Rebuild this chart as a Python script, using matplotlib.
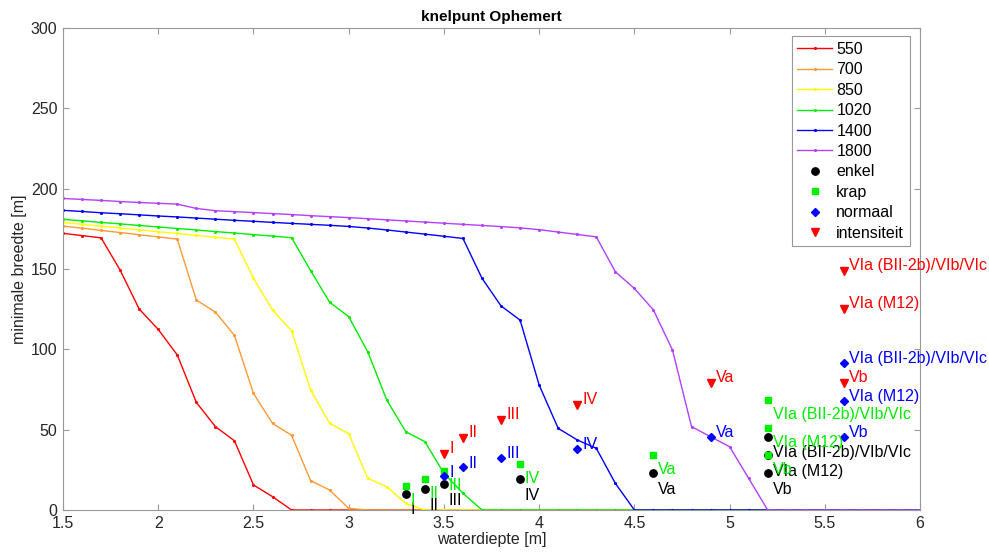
import matplotlib
matplotlib.use('Agg')
import matplotlib.pyplot as plt
import numpy as np

plt.rcParams['font.family'] = ['Liberation Sans', 'DejaVu Sans']
plt.rcParams['font.size'] = 11.5

# waterdiepte (x) en minimale breedte per schip-klasse
diepte = np.round(np.arange(1.5, 6.01, 0.1), 1)

b550 = [172.2, 170.8, 169.4, 149.3, 125.1, 112.4, 96.5, 67.0, 51.9, 43.1,
        15.6, 8.3, 0]
b700 = [176.7, 175.4, 174.0, 172.7, 171.3, 170.0, 168.6, 130.7, 123.2, 108.7,
        72.6, 53.9, 46.5, 18.3, 12.4, 1.0, 0]
b850 = [179.0, 177.8, 176.7, 175.5, 174.4, 173.2, 172.1, 170.9, 169.8, 168.6,
        144.2, 124.5, 111.6, 74.7, 53.9, 47.5, 19.7, 14.5, 4.1, 0]
b1020 = [180.9, 180.0, 179.0, 178.1, 177.1, 176.2, 175.2, 174.3, 173.3, 172.4,
         171.4, 170.5, 169.5, 149.0, 129.3, 120.3, 98.5, 68.4, 48.7, 42.5,
         22.8, 10.4, 0]
b1400 = [186.5, 185.8, 185.0, 184.4, 183.7, 183.0, 182.4, 181.7, 181.0, 180.3,
         179.7, 179.0, 178.4, 177.8, 177.2, 176.5, 175.5, 174.3, 173.0, 171.7,
         170.4, 169.0, 144.2, 127.0, 118.2, 77.8, 50.8, 43.6, 38.4, 16.6, 0]
b1800 = [193.9, 193.3, 192.7, 192.0, 191.4, 190.9, 190.4, 187.7, 186.3, 185.7,
         185.1, 184.5, 183.9, 183.2, 182.6, 182.0, 181.3, 180.6, 179.9, 179.2,
         178.5, 177.8, 177.1, 176.4, 175.6, 174.5, 173.0, 171.5, 170.0, 148.3,
         137.9, 124.5, 99.6, 51.9, 45.6, 39.4, 19.7, 0]

reeks_namen = ['550', '700', '850', '1020', '1400', '1800']
reeksen = [b550, b700, b850, b1020, b1400, b1800]
reeks_kleuren = ['#ff0000', '#ff9933', '#ffff00', '#00ee00', '#0000ff', '#b340ff']

klassen = ['I', 'II', 'III', 'IV', 'Va', 'VIa (BII-2b)/VIb/VIc', 'VIa (M12)', 'Vb']

enkel_x = [3.3, 3.4, 3.5, 3.9, 4.6, 5.2, 5.2, 5.2]
enkel_y = [10, 13, 16, 19, 23, 45.5, 34, 23]
krap_x = [3.3, 3.4, 3.5, 3.9, 4.6, 5.2, 5.2, 5.2]
krap_y = [15, 19.5, 24.5, 28.5, 34, 68.5, 51, 34]
normaal_x = [3.5, 3.6, 3.8, 4.2, 4.9, 5.6, 5.6, 5.6]
normaal_y = [21, 26.5, 32.5, 38, 45.5, 91.5, 68, 45.5]
intens_x = [3.5, 3.6, 3.8, 4.2, 4.9, 5.6, 5.6, 5.6]
intens_y = [35, 45, 56, 65.5, 79, 148.5, 125, 79]

fig = plt.figure(figsize=(9.89, 5.57), dpi=100)
ax = fig.add_axes([0.0637, 0.0844, 0.8666, 0.8653])

for naam, b, kl in zip(reeks_namen, reeksen, reeks_kleuren):
    y = list(b) + [0] * (len(diepte) - len(b))
    ax.plot(diepte, y, color=kl, lw=1, marker='.', ms=2.5, label=naam)

groepen = [
    ('enkel', enkel_x, enkel_y, 'o', 'black', 5.3, (3.5, -11.5)),
    ('krap', krap_x, krap_y, 's', '#00ee00', 3.8, (3.5, -10.5)),
    ('normaal', normaal_x, normaal_y, 'D', 'blue', 4.2, (3.8, 3)),
    ('intensiteit', intens_x, intens_y, 'v', 'red', 5.5, (3.8, 4)),
]
for naam, gx, gy, m, kl, ms, off in groepen:
    ax.plot(gx, gy, ls='none', marker=m, color=kl, ms=ms, label=naam)
    for xi, yi, t in zip(gx, gy, klassen):
        ax.annotate(t, (xi, yi), xytext=off, textcoords='offset points',
                    color=kl, fontsize=11.5, ha='left', va='center',
                    annotation_clip=False)

ax.set_xlim(1.5, 6)
ax.set_ylim(0, 300)
ax.set_xticks(np.arange(1.5, 6.01, 0.5))
ax.set_xticklabels(['1.5', '2', '2.5', '3', '3.5', '4', '4.5', '5', '5.5', '6'])
ax.set_yticks(np.arange(0, 301, 50))
ax.tick_params(direction='in', top=True, right=True, length=4, width=0.8,
               color='#999999', labelcolor='#262626', labelsize=11.5, pad=4)
for s in ax.spines.values():
    s.set_color('#999999')
    s.set_linewidth(0.8)

ax.set_title('knelpunt Ophemert', fontsize=11, fontweight='bold', pad=5)
ax.set_xlabel('waterdiepte [m]', color='#262626', labelpad=1)
ax.set_ylabel('minimale breedte [m]', color='#262626', labelpad=3)

leg = ax.legend(loc='upper right', bbox_to_anchor=(0.988, 0.983),
                borderaxespad=0, fancybox=False, framealpha=1,
                edgecolor='#999999', fontsize=11.5, labelspacing=0.34,
                handlelength=2.2, handletextpad=0.25, borderpad=0.35)
leg.get_frame().set_linewidth(0.8)

plt.savefig('out.png', dpi=100)
plt.close()
